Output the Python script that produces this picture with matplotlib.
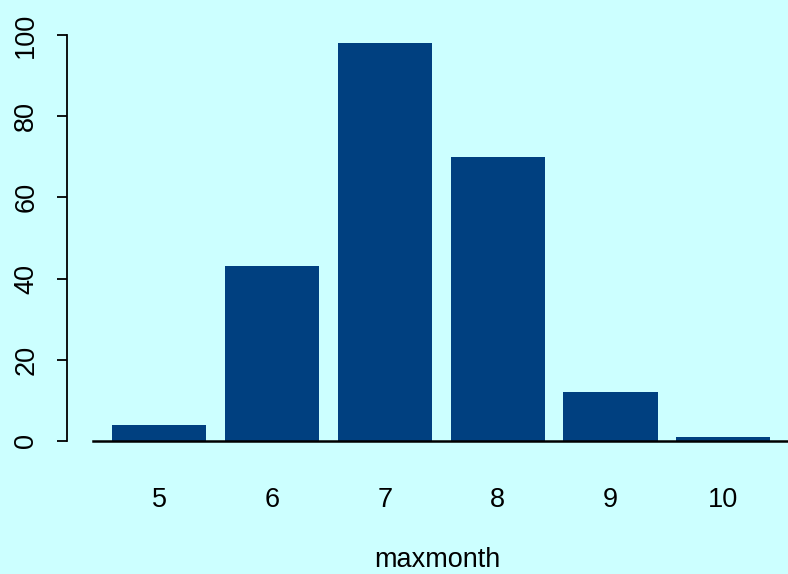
import matplotlib.pyplot as plt

# data
months = ['5', '6', '7', '8', '9', '10']
counts = [4, 43, 98, 70, 12, 1]
yticks = [0, 20, 40, 60, 80, 100]

bg = '#CCFFFF'
bar_color = '#004080'
fs = 19.5

plt.rcParams['font.family'] = ['Liberation Sans', 'DejaVu Sans']

fig = plt.figure(figsize=(7.88, 5.74), dpi=100, facecolor=bg)
# axes placed so that y=0 is at pixel 441 and y=100 at pixel 35
ax = fig.add_axes([67 / 788, 1 - 441 / 574, 721 / 788, 406 / 574])
ax.set_facecolor(bg)

# R barplot layout: width 1, space 0.2
pos = [0.7 + 1.2 * i for i in range(len(months))]
ax.bar(pos, counts, width=1.0, color=bar_color, edgecolor='none')

ax.set_xlim(-0.278, 7.387)
ax.set_ylim(0, 100)

for s in ['top', 'right', 'bottom']:
    ax.spines[s].set_visible(False)
ax.spines['left'].set_linewidth(1.3)
ax.spines['left'].set_bounds(0, 100)

# baseline
ax.plot([0, 7.387], [0, 0], color='black', linewidth=1.8, clip_on=False)

ax.set_yticks(yticks)
ax.set_yticklabels([str(v) for v in yticks], rotation=90, va='center', fontsize=fs)
ax.tick_params(axis='y', length=7, width=1.3, pad=13)

ax.set_xticks(pos)
ax.set_xticklabels(months, fontsize=fs)
ax.tick_params(axis='x', length=0, pad=33)

# x label sits right at the bottom edge
fig.text(437 / 788, 1 - 567 / 574, 'maxmonth', fontsize=fs,
         ha='center', va='baseline')

fig.savefig('out.png', dpi=100, facecolor=bg)
